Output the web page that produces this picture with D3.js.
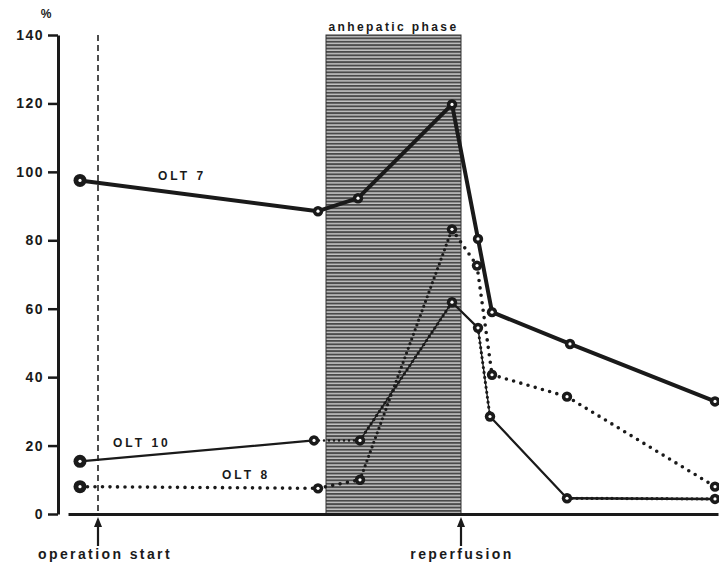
<!DOCTYPE html>
<html>
<head>
<meta charset="utf-8">
<script src="https://cdn.jsdelivr.net/npm/d3@7"></script>
<style>
  body { margin: 0; background: #fff; }
  text { font-family: "Liberation Sans", Arial, sans-serif; font-weight: bold; fill: #1a1a1a; }
</style>
</head>
<body>
<div id="chart"></div>
<script>
// time in minutes from first measurement (x), percentage (y)
const olt7Time = [12, 250, 290, 384, 410, 424, 502, 647];
const olt7Vals = [97.5, 88.5, 92.3, 119.7, 80.4, 59.0, 49.7, 32.9];

const olt10Time = [12, 246, 292, 384, 410, 422, 499, 647];
const olt10Vals = [15.4, 21.5, 21.5, 61.9, 54.4, 28.5, 4.6, 4.4];

const olt8Time = [12, 250, 292, 384, 409, 424, 499, 647];
const olt8Vals = [8.0, 7.5, 10.0, 83.2, 72.6, 40.7, 34.3, 8.0];

const yTicks = [0, 20, 40, 60, 80, 100, 120, 140];
const anhepatic = [258, 393];   // start, end of anhepatic phase
const opStart = 30;
const reperfusion = 393;

const width = 719, height = 566;

const svg = d3.select('#chart').append('svg')
    .attr('width', width)
    .attr('height', height);

const x = d3.scaleLinear().domain([0, 650]).range([68, 718]);
const y = d3.scaleLinear().domain([0, 140]).range([514, 35]);

// striped fill for the anhepatic phase
const defs = svg.append('defs');
const pat = defs.append('pattern')
    .attr('id', 'stripes')
    .attr('patternUnits', 'userSpaceOnUse')
    .attr('width', 10)
    .attr('height', 3.4);
pat.append('rect').attr('width', 10).attr('height', 3.4).attr('fill', '#c4c4c4');
pat.append('rect').attr('y', 0).attr('width', 10).attr('height', 1.9).attr('fill', '#4a4a4a');

svg.append('rect')
    .attr('x', x(anhepatic[0]))
    .attr('y', y(140))
    .attr('width', x(anhepatic[1]) - x(anhepatic[0]))
    .attr('height', y(0) - y(140))
    .attr('fill', 'url(#stripes)')
    .attr('stroke', '#333')
    .attr('stroke-width', 1);

svg.append('text')
    .attr('x', (x(anhepatic[0]) + x(anhepatic[1])) / 2)
    .attr('y', 31)
    .attr('text-anchor', 'middle')
    .attr('font-size', 12)
    .attr('letter-spacing', 2.4)
    .text('anhepatic phase');

// operation start dashed line
svg.append('line')
    .attr('x1', x(opStart)).attr('x2', x(opStart))
    .attr('y1', y(140)).attr('y2', y(0))
    .attr('stroke', '#222')
    .attr('stroke-width', 1.6)
    .attr('stroke-dasharray', '6 4');

// y axis
const yAxis = svg.append('g')
    .attr('transform', 'translate(58,0)')
    .call(d3.axisLeft(y).tickValues(yTicks).tickSize(10).tickSizeOuter(0).tickPadding(4));
yAxis.select('.domain').attr('stroke', '#1a1a1a').attr('stroke-width', 3);
yAxis.selectAll('.tick line').attr('stroke', '#1a1a1a').attr('stroke-width', 2.5);
yAxis.selectAll('.tick text')
    .attr('font-size', 14)
    .attr('letter-spacing', 1.5)
    .attr('fill', '#1a1a1a')
    .style('font-family', '"Liberation Sans", Arial, sans-serif')
    .style('font-weight', 'bold');

svg.append('text')
    .attr('x', 46).attr('y', 18)
    .attr('text-anchor', 'middle')
    .attr('font-size', 12)
    .text('%');

// x baseline
const xAxis = svg.append('g')
    .attr('transform', `translate(0,${y(0)})`)
    .call(d3.axisBottom(x).tickValues([]).tickSizeOuter(0));
xAxis.select('.domain').attr('stroke', '#1a1a1a').attr('stroke-width', 3);

// arrows + labels below the axis
function arrow(xv, label, dx) {
    const px = x(xv);
    svg.append('line')
        .attr('x1', px).attr('x2', px)
        .attr('y1', 546).attr('y2', 524)
        .attr('stroke', '#1a1a1a').attr('stroke-width', 2.2);
    svg.append('path')
        .attr('d', `M${px - 4},527 L${px},517 L${px + 4},527 Z`)
        .attr('fill', '#1a1a1a');
    svg.append('text')
        .attr('x', px + dx).attr('y', 559)
        .attr('text-anchor', 'middle')
        .attr('font-size', 14)
        .attr('letter-spacing', 2.4)
        .text(label);
}
arrow(opStart, 'operation start', 7);
arrow(reperfusion, 'reperfusion', 1);

// series helpers
const toPts = (ts, vs) => ts.map((t, i) => [x(t), y(vs[i])]);

function segment(a, b, opts) {
    svg.append('line')
        .attr('x1', a[0]).attr('y1', a[1])
        .attr('x2', b[0]).attr('y2', b[1])
        .attr('stroke', '#1a1a1a')
        .attr('stroke-width', opts.w)
        .attr('stroke-linecap', 'round')
        .attr('stroke-dasharray', opts.dash || null);
}

const solidThick = { w: 4 };
const solidThin = { w: 2.2 };
const dotted = { w: 3.6, dash: '0 7.5' };
const denseDotted = { w: 3.2, dash: '0 5' };

// OLT 7: thick solid
const p7 = toPts(olt7Time, olt7Vals);
for (let i = 0; i < p7.length - 1; i++) segment(p7[i], p7[i + 1], solidThick);

// OLT 10: thin solid with some dotted stretches
const p10 = toPts(olt10Time, olt10Vals);
for (let i = 0; i < p10.length - 1; i++) {
    if (i === 1) segment(p10[i], p10[i + 1], { w: 2.5, dash: '0 5' });
    else if (i === 2 || i === 4) { segment(p10[i], p10[i + 1], { w: 1.4 }); segment(p10[i], p10[i + 1], denseDotted); }
    else if (i === 6) { segment(p10[i], p10[i + 1], { w: 2.6 }); segment(p10[i], p10[i + 1], denseDotted); }
    else segment(p10[i], p10[i + 1], solidThin);
}

// OLT 8: dotted
const p8 = toPts(olt8Time, olt8Vals);
for (let i = 0; i < p8.length - 1; i++) segment(p8[i], p8[i + 1], i === 2 ? denseDotted : dotted);

// markers
function markers(pts) {
    pts.forEach((p, i) => {
        const r = i === 0 ? 6.5 : 5.2;
        svg.append('circle')
            .attr('cx', p[0]).attr('cy', p[1]).attr('r', r)
            .attr('fill', '#1a1a1a');
        svg.append('circle')
            .attr('cx', p[0]).attr('cy', p[1]).attr('r', 1.6)
            .attr('fill', '#fff');
    });
}
markers(p7);
markers(p10);
markers(p8);

// series labels
const labels = [
    { t: 'OLT 7', tx: 90, v: 97.5 },
    { t: 'OLT 10', tx: 45, v: 19.5 },
    { t: 'OLT 8', tx: 154, v: 10.2 }
];
svg.selectAll('.lbl').data(labels).enter().append('text')
    .attr('class', 'lbl')
    .attr('x', d => x(d.tx))
    .attr('y', d => y(d.v))
    .attr('font-size', 12)
    .attr('letter-spacing', 3)
    .text(d => d.t);
</script>
</body>
</html>
